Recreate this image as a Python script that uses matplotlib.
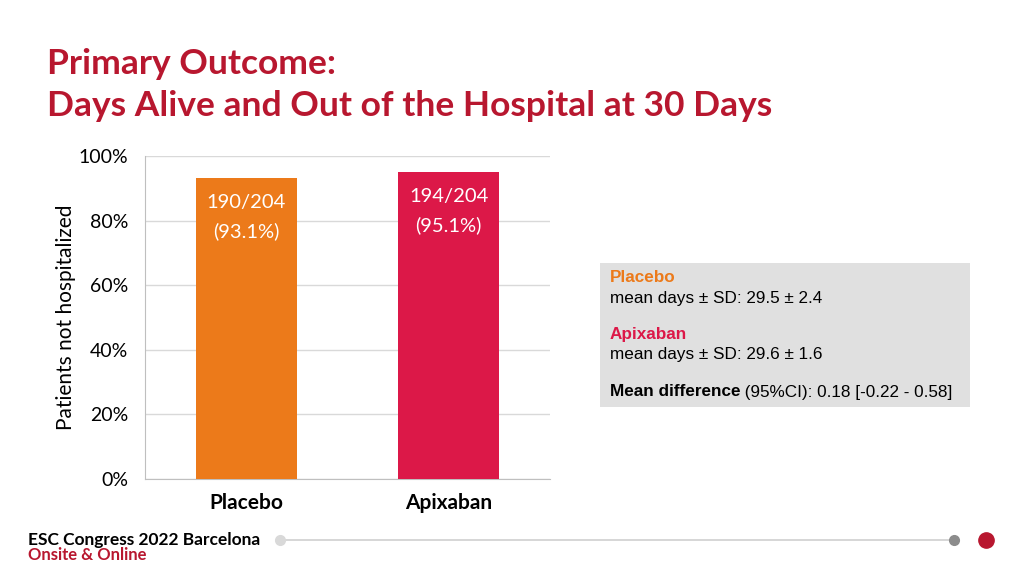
import matplotlib
matplotlib.use("Agg")
import matplotlib.pyplot as plt
from matplotlib.patches import Rectangle
from matplotlib.lines import Line2D

groups = ["Placebo", "Apixaban"]
pct = [93.1, 95.1]
counts = ["190/204", "194/204"]
yticks = [0, 20, 40, 60, 80, 100]
box_lines = [
    ("Placebo", "mean days ± SD: 29.5 ± 2.4"),
    ("Apixaban", "mean days ± SD: 29.6 ± 1.6"),
]
mean_diff = ("Mean difference", " (95%CI): 0.18 [-0.22 - 0.58]")

ORANGE = "#EC7A1A"
RED = "#DC1848"
TITLE_RED = "#B8172F"
FONT = "Lato"

fig = plt.figure(figsize=(10.24, 5.76), dpi=100)
fig.patch.set_facecolor("white")

ax = fig.add_axes([0.1416, 0.1684, 0.3955, 0.5608])
ax.bar(range(len(groups)), pct, width=0.5, color=[ORANGE, RED], zorder=3)
ax.set_xlim(-0.5, 1.5); ax.set_ylim(0, 100)
ax.set_yticks(yticks)
ax.set_yticklabels([f"{v}%" for v in yticks], fontsize=14, family=FONT)
ax.set_xticks(range(len(groups)))
ax.set_xticklabels(groups, fontsize=15, family=FONT, weight="bold")
ax.tick_params(length=0)
ax.tick_params(axis="y", pad=12)
ax.tick_params(axis="x", pad=10)
ax.grid(axis="y", color="#D9D9D9", lw=1, zorder=0)
for s in ["top", "right"]:
    ax.spines[s].set_visible(False)
for s in ["left", "bottom"]:
    ax.spines[s].set_color("#BFBFBF")
ax.set_ylabel("Patients not hospitalized", fontsize=15, family=FONT, labelpad=2)
for i, (p, c) in enumerate(zip(pct, counts)):
    ax.text(i, p - 5.0, f"{c}\n({p}%)", ha="center", va="top", color="white",
            fontsize=14.5, family=FONT, linespacing=1.75)

# title
fig.text(0.046, 0.889, "Primary Outcome:", fontsize=25.5, weight="bold", family=FONT,
         color=TITLE_RED, va="center")
fig.text(0.046, 0.816, "Days Alive and Out of the Hospital at 30 Days", fontsize=25.5,
         weight="bold", family=FONT, color=TITLE_RED, va="center")

# summary box
fig.patches.append(Rectangle((600 / 1024, 1 - 407 / 576), 370 / 1024, 144 / 576,
                             transform=fig.transFigure, facecolor="#E0E0E0",
                             edgecolor="none"))
bf = "Liberation Sans"
bs = 12.3
ys = [278, 298, 335, 355]
for k, (name, txt) in enumerate(box_lines):
    fig.text(610 / 1024, 1 - ys[2 * k] / 576, name, fontsize=bs, weight="bold", family=bf,
             color=[ORANGE, RED][k], va="center")
    fig.text(610 / 1024, 1 - ys[2 * k + 1] / 576, txt, fontsize=bs, family=bf, va="center")
t = fig.text(610 / 1024, 1 - 392 / 576, mean_diff[0], fontsize=bs, weight="bold",
             family=bf, va="center")
fig.canvas.draw()
bb = t.get_window_extent()
fig.text(bb.x1 / 1024, 1 - 392 / 576, mean_diff[1], fontsize=bs, family=bf, va="center")

# footer
fig.text(28 / 1024, 1 - 540 / 576, "ESC Congress 2022 Barcelona", fontsize=12.5,
         weight="bold", family=FONT, va="center")
fig.text(28 / 1024, 1 - 555 / 576, "Onsite & Online", fontsize=12,
         weight="bold", family=FONT, color=TITLE_RED, va="center")
fy = 1 - 540 / 576
fig.lines.append(Line2D([280 / 1024, 955 / 1024], [fy, fy], transform=fig.transFigure,
                        color="#D0D0D0", lw=1.2))
fig.lines.append(Line2D([280 / 1024], [fy], transform=fig.transFigure, marker="o",
                        ms=7, color="#D9D9D9", lw=0))
fig.lines.append(Line2D([954 / 1024], [fy], transform=fig.transFigure, marker="o",
                        ms=7, color="#8C8C8C", lw=0))
fig.lines.append(Line2D([986 / 1024], [fy], transform=fig.transFigure, marker="o",
                        ms=11, color="#B8172F", lw=0))

fig.savefig("out.png", dpi=100)
